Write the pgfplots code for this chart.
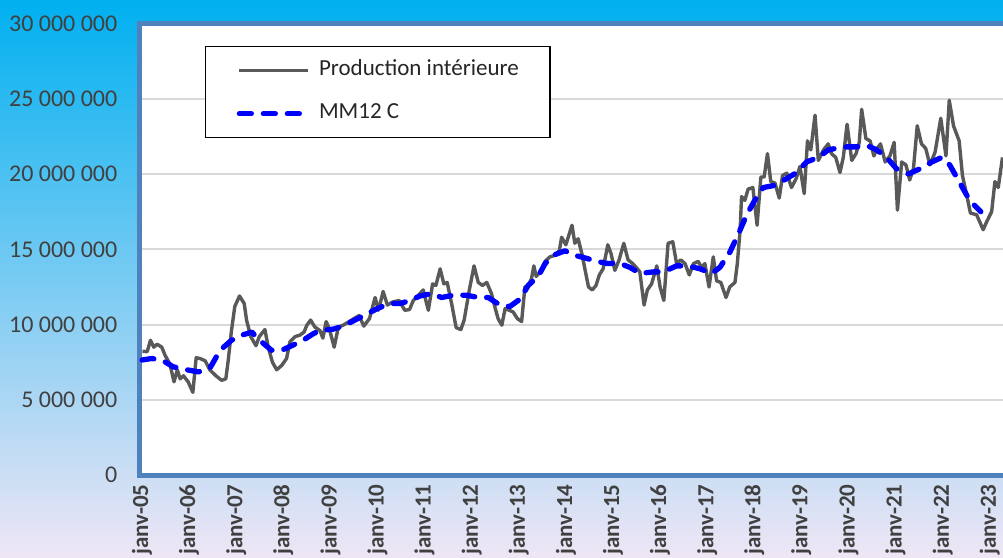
\documentclass[border=0pt]{standalone}
\usepackage{fontspec}
\setmainfont{Carlito}
\usepackage{pgfplots}
\usepackage{pgfplotstable}
\pgfplotsset{compat=1.18}
\definecolor{bgtop}{HTML}{00B0F0}
\definecolor{bgbot}{HTML}{EFE6F5}
\definecolor{framec}{HTML}{4F81BD}
\definecolor{greyline}{HTML}{595959}
\definecolor{lbl}{HTML}{404040}
\definecolor{gridc}{HTML}{D9D9D9}
\definecolor{mmblue}{HTML}{0000FF}

\pgfplotstableread{
t v
2005.01 8.23
2005.11 8.20
2005.18 8.96
2005.25 8.50
2005.32 8.70
2005.42 8.50
2005.49 7.96
2005.59 7.40
2005.68 6.20
2005.75 7.00
2005.81 6.40
2005.88 6.60
2005.98 6.20
2006.08 5.50
2006.15 7.80
2006.23 7.75
2006.34 7.60
2006.44 7.00
2006.57 6.60
2006.69 6.30
2006.78 6.40
2006.83 7.60
2006.90 9.60
2006.97 11.20
2007.07 11.90
2007.17 11.40
2007.22 10.30
2007.31 9.20
2007.42 8.60
2007.49 9.20
2007.61 9.67
2007.68 8.50
2007.77 7.50
2007.86 7.00
2007.97 7.30
2008.07 7.75
2008.14 8.85
2008.25 9.20
2008.35 9.30
2008.44 9.50
2008.50 9.96
2008.58 10.30
2008.67 9.84
2008.78 9.60
2008.84 9.10
2008.91 10.20
2008.98 9.70
2009.08 8.50
2009.17 9.84
2009.27 9.96
2009.40 10.20
2009.50 10.40
2009.61 10.60
2009.71 9.90
2009.83 10.40
2009.95 11.80
2010.02 10.95
2010.12 12.20
2010.21 11.30
2010.32 11.50
2010.46 11.60
2010.58 10.95
2010.68 11.00
2010.76 11.60
2010.87 11.95
2010.97 12.30
2011.08 10.95
2011.17 12.70
2011.24 12.60
2011.33 13.70
2011.41 12.70
2011.48 12.80
2011.58 11.30
2011.67 9.80
2011.77 9.67
2011.84 10.30
2011.95 12.30
2012.05 13.90
2012.14 12.80
2012.23 12.60
2012.32 12.80
2012.42 12.06
2012.49 11.20
2012.56 10.40
2012.64 9.96
2012.71 11.06
2012.80 10.95
2012.88 10.84
2012.97 10.40
2013.06 10.20
2013.13 12.50
2013.20 12.60
2013.27 13.05
2013.32 13.90
2013.37 13.20
2013.46 13.50
2013.56 14.20
2013.66 14.50
2013.77 14.60
2013.86 14.90
2013.91 15.80
2014.00 15.30
2014.06 15.90
2014.13 16.60
2014.19 15.40
2014.26 15.70
2014.34 14.70
2014.41 13.60
2014.48 12.50
2014.56 12.30
2014.64 12.60
2014.71 13.30
2014.79 13.70
2014.89 15.30
2014.96 14.70
2015.04 13.60
2015.13 14.30
2015.23 15.40
2015.32 14.30
2015.42 14.05
2015.52 13.70
2015.57 13.50
2015.66 11.30
2015.73 12.30
2015.82 12.70
2015.93 13.90
2016.00 12.50
2016.08 11.60
2016.17 15.40
2016.27 15.50
2016.35 14.05
2016.44 14.30
2016.53 14.05
2016.62 13.30
2016.71 14.05
2016.81 14.20
2016.88 13.80
2016.95 14.05
2017.04 12.50
2017.13 14.50
2017.20 12.90
2017.29 12.80
2017.40 11.80
2017.48 12.50
2017.59 12.80
2017.64 14.05
2017.70 16.30
2017.73 18.50
2017.80 18.25
2017.87 19.00
2017.97 19.10
2018.06 16.60
2018.14 19.80
2018.21 19.80
2018.28 21.35
2018.35 19.50
2018.44 19.40
2018.53 18.40
2018.60 19.90
2018.69 20.06
2018.79 19.10
2018.89 19.70
2018.97 20.50
2019.06 18.70
2019.13 22.20
2019.20 21.60
2019.29 23.90
2019.36 20.90
2019.47 21.60
2019.57 22.00
2019.64 21.35
2019.73 21.10
2019.82 20.10
2019.89 21.10
2019.97 23.30
2020.07 20.90
2020.16 21.35
2020.23 22.10
2020.28 24.30
2020.37 22.35
2020.46 22.20
2020.54 21.20
2020.61 21.70
2020.68 22.00
2020.78 20.80
2020.88 21.20
2020.97 22.10
2021.04 17.60
2021.13 20.80
2021.22 20.60
2021.30 19.60
2021.38 20.35
2021.46 23.20
2021.55 22.00
2021.64 21.70
2021.73 20.60
2021.84 21.46
2021.96 23.70
2022.07 21.20
2022.14 24.90
2022.23 23.20
2022.35 22.20
2022.42 19.90
2022.51 18.60
2022.59 17.40
2022.72 17.30
2022.86 16.30
2022.93 16.80
2023.04 17.50
2023.11 19.50
2023.18 19.10
2023.27 21.10
}\prodtable

\pgfplotstableread{
t v
2005.00 7.65
2005.21 7.75
2005.45 7.60
2005.66 7.20
2005.95 7.00
2006.20 6.86
2006.44 7.10
2006.66 8.30
2006.90 8.96
2007.12 9.30
2007.33 9.50
2007.54 8.85
2007.75 8.30
2007.97 8.30
2008.18 8.60
2008.42 8.96
2008.64 9.40
2008.78 9.60
2009.06 9.70
2009.27 9.90
2009.52 10.30
2009.77 10.70
2010.02 11.10
2010.27 11.40
2010.48 11.40
2010.69 11.60
2010.90 11.90
2011.15 12.06
2011.36 11.80
2011.61 11.95
2011.89 11.95
2012.14 11.80
2012.35 11.80
2012.60 11.30
2012.81 11.20
2013.03 11.70
2013.20 12.60
2013.41 13.20
2013.56 14.05
2013.73 14.60
2013.98 14.90
2014.19 14.60
2014.44 14.40
2014.65 14.20
2014.90 14.05
2015.11 14.10
2015.36 13.80
2015.57 13.40
2015.86 13.50
2016.07 13.50
2016.35 13.90
2016.60 13.90
2016.85 13.70
2017.10 13.40
2017.27 13.80
2017.48 14.80
2017.66 16.00
2017.84 17.30
2018.01 18.25
2018.19 19.10
2018.44 19.25
2018.69 19.70
2018.90 20.10
2019.11 20.80
2019.36 21.10
2019.57 21.60
2019.89 21.80
2020.17 21.80
2020.39 21.90
2020.60 21.60
2020.81 21.10
2021.02 20.35
2021.27 20.00
2021.52 20.35
2021.77 20.80
2021.98 21.10
2022.15 20.60
2022.33 19.60
2022.51 18.60
2022.65 18.00
2022.81 17.50
}\mmtable

\begin{document}
\begin{tikzpicture}
\path[use as bounding box] (0pt,0pt) rectangle (1003pt,557pt);
\clip (0pt,0pt) rectangle (1003pt,557pt);
\shade[top color=bgtop, bottom color=bgbot] (0pt,0pt) rectangle (1003pt,557pt);
\begin{axis}[
  at={(139.5pt,81.8pt)}, anchor=south west,
  scale only axis, width=870.5pt, height=451.8pt,
  xmin=2004.947, xmax=2023.43, ymin=0, ymax=30,
  axis background/.style={fill=white},
  axis line style={draw=framec, line width=4.8pt},
  major tick length=0pt,
  tick style={draw=none},
  ymajorgrids,
  major grid style={draw=gridc, line width=1.8pt},
  ytick={0,5,10,15,20,25,30},
  yticklabels={0,5 000 000,10 000 000,15 000 000,20 000 000,25 000 000,30 000 000},
  xtick={2005,2006,2007,2008,2009,2010,2011,2012,2013,2014,2015,2016,2017,2018,2019,2020,2021,2022,2023},
  xticklabels={janv-05,janv-06,janv-07,janv-08,janv-09,janv-10,janv-11,janv-12,janv-13,janv-14,janv-15,janv-16,janv-17,janv-18,janv-19,janv-20,janv-21,janv-22,janv-23},
  yticklabel style={font=\fontsize{24}{28}\selectfont, text=lbl, anchor=east, inner xsep=22pt, inner ysep=0pt},
  xticklabel style={font=\fontsize{23}{27}\selectfont\bfseries, text=lbl, rotate=90, anchor=east, inner xsep=9pt, inner ysep=0pt},
  legend cell align=left,
  legend image code/.code={\path (0pt,0pt); \draw[#1] (0pt,0pt) -- (69pt,0pt);},
  legend style={at={(axis description cs:0.0752,0.950)}, anchor=north west,
    draw=black, line width=1.5pt, fill=white,
    inner xsep=31pt, inner ysep=14pt, column sep=8pt, row sep=23pt,
    font=\fontsize{23}{27}\selectfont, text=black!85,
    nodes={inner sep=0pt, text height=15pt, text depth=5pt}},
]
\addplot[greyline, line width=3.4pt, line join=round, no markers] table[x=t, y=v] {\prodtable};
\addlegendentry{Production intérieure}
\addplot[mmblue, line width=5.3pt, dash pattern=on 12pt off 12pt, line cap=round, line join=round, no markers] table[x=t, y=v] {\mmtable};
\addlegendentry{MM12 C}
\end{axis}
\end{tikzpicture}
\end{document}
